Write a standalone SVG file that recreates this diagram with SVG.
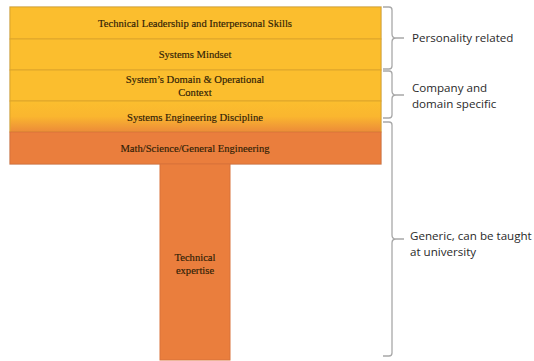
<svg xmlns="http://www.w3.org/2000/svg" width="534" height="361" viewBox="0 0 534 361">
<defs>
<linearGradient id="g4" x1="0" y1="0" x2="0" y2="1">
<stop offset="0" stop-color="#FBBE2E"/>
<stop offset="0.5" stop-color="#FAB62F"/>
<stop offset="1" stop-color="#EC8B39"/>
</linearGradient>
<style>
.y{fill:#FBBE2E;stroke:#DDA52A;stroke-width:1}
.o{fill:#EA7E3D;stroke:#D9733A;stroke-width:1}
.t{font-family:"Liberation Serif","Times New Roman",serif;font-size:10.6px;fill:#2E2006;text-anchor:middle;stroke:#2E2006;stroke-width:0.15}
.b{fill:none;stroke:#A8A8A8;stroke-width:1.3}
.l{font-family:"Open Sans","Liberation Sans",sans-serif;font-size:11.6px;fill:#2A2A2A}
</style>
</defs>
<rect x="10" y="7" width="371" height="157" fill="none" stroke="#D8D8D8" stroke-width="1.5"/>
<g id="n1"><rect class="y" x="10" y="7" width="371" height="32"/><text class="t" x="195" y="26.5">Technical Leadership and Interpersonal Skills</text></g>
<g id="n2"><rect class="y" x="10" y="39" width="371" height="31"/><text class="t" x="195" y="58">Systems Mindset</text></g>
<g id="n3"><rect class="y" x="10" y="70" width="371" height="31"/><text class="t" x="195" y="83">System’s Domain &amp; Operational</text><text class="t" x="195" y="95.5">Context</text></g>
<g id="n4"><rect x="10" y="101" width="371" height="31" fill="url(#g4)" stroke="#DDA52A" stroke-width="1"/><text class="t" x="195" y="121">Systems Engineering Discipline</text></g>
<g id="n5"><rect class="o" x="10" y="132" width="371" height="32"/><text class="t" x="195" y="151.5">Math/Science/General Engineering</text></g>
<g id="n6"><rect class="o" x="160" y="164" width="70" height="196" stroke="#F0A880"/><text class="t" x="195" y="261">Technical</text><text class="t" x="195" y="274">expertise</text></g>
<g id="connectors">
<path class="b" d="M383,7 H389 Q392,7 392,10 V34 Q392,38 396,38 Q392,38 392,42 V66 Q392,69 389,69 H383 M396,38 H404"/>
<path class="b" d="M383,71 H389 Q392,71 392,74 V91 Q392,95 396,95 Q392,95 392,99 V115 Q392,118 389,118 H383 M396,95 H404"/>
<path class="b" d="M383,122 H389 Q392,122 392,125 V235 Q392,239 396,239 Q392,239 392,243 V353 Q392,356 389,356 H383 M396,239 H404"/>
</g>
<g id="labels">
<text class="l" x="412" y="42">Personality related</text>
<text class="l" x="412" y="92">Company and</text>
<text class="l" x="412" y="108">domain specific</text>
<text class="l" x="410" y="240">Generic, can be taught</text>
<text class="l" x="410" y="256">at university</text>
</g>
</svg>
